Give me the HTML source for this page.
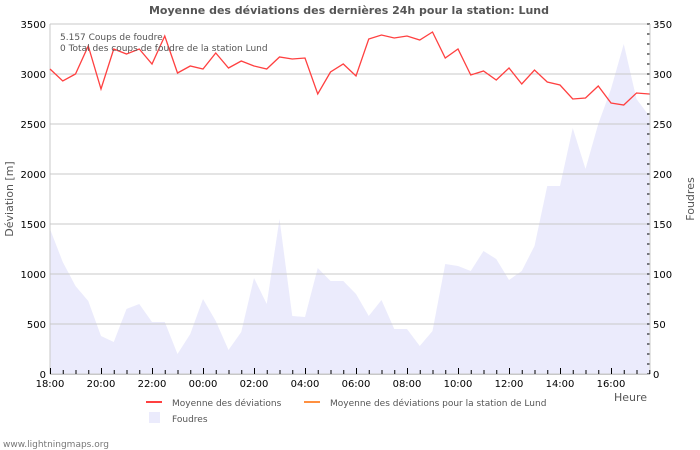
<!DOCTYPE html>
<html><head><meta charset="utf-8"><style>
body{margin:0;background:#fff;}
svg{display:block;font-family:"DejaVu Sans","Liberation Sans",sans-serif;}
</style></head><body>
<svg id="c" width="700" height="450"></svg>
<script>
const deviation=[3050,2930,3000,3280,2850,3250,3200,3250,3100,3380,3010,3080,3050,3210,3060,3130,3080,3050,3170,3150,3160,2800,3020,3100,2980,3350,3390,3360,3380,3340,3420,3160,3250,2990,3030,2940,3060,2900,3040,2920,2890,2750,2760,2880,2710,2690,2810,2800];
const foudres=[145,112,88,73,38,32,65,70,52,52,20,40,75,53,24,42,96,70,155,58,57,106,93,93,80,58,74,45,45,28,43,110,108,103,123,115,94,103,128,188,188,246,205,250,285,330,275,258];
const xLabels=["18:00","20:00","22:00","00:00","02:00","04:00","06:00","08:00","10:00","12:00","14:00","16:00"];
const leftTicks=[0,500,1000,1500,2000,2500,3000,3500];
const rightTicks=[0,50,100,150,200,250,300,350];
const NS="http://www.w3.org/2000/svg";
const svg=document.getElementById('c');
const L=50,R=650,T=24,B=374,step=12.75;
const xs=i=>L+i*step;
const yl=v=>B-(v/3500)*(B-T);
const yr=v=>B-(v/350)*(B-T);
function mk(tag,attrs,parent){const e=document.createElementNS(NS,tag);for(const k in attrs)e.setAttribute(k,attrs[k]);(parent||svg).appendChild(e);return e;}
function txt(s,attrs){const e=mk('text',attrs);e.textContent=s;return e;}
// area
let d=`M${xs(0)},${B}`;foudres.forEach((v,i)=>d+=` L${xs(i)},${yr(v)}`);d+=` L${xs(foudres.length-1)},${B} Z`;
const area=mk('path',{d:d,fill:'#ebebfc'});


// grid
leftTicks.forEach(v=>{
 const g=mk('line',{x1:L,x2:R,y1:yl(v),y2:yl(v),stroke:'#c8c8c8','stroke-width':1});
 
 
 const t=txt(String(v),{x:L-4,y:yl(v)+4,'text-anchor':'end','font-size':10,fill:'#000'});
 
 
});
rightTicks.forEach(v=>{
 const t=txt(String(v),{x:R+3,y:yr(v)+4,'font-size':10,fill:'#000'});
 
 
});
for(let v=0;v<=350;v+=10){mk('line',{x1:R-3,x2:R,y1:yr(v),y2:yr(v),stroke:'#000','stroke-width':1});}
// frame
mk('line',{x1:L,x2:L,y1:T,y2:B,stroke:'#c8c8c8'});
mk('line',{x1:R,x2:R,y1:T,y2:B,stroke:'#c8c8c8'});
mk('line',{x1:L,x2:R,y1:B+0.5,y2:B+0.5,stroke:'#c8c8c8'});
// x ticks
for(let i=0;i<48;i++){const maj=i%4===0;mk('line',{x1:xs(i)+0.5,x2:xs(i)+0.5,y1:B,y2:B-(maj?6:4),stroke:'#000'});}
xLabels.forEach((s,i)=>{
 const t=txt(s,{x:xs(i*4),y:B+13,'text-anchor':'middle','font-size':10,fill:'#000'});
 
 
});
// line
const line=mk('polyline',{points:deviation.map((v,i)=>`${xs(i)},${yl(v)}`).join(' '),fill:'none',stroke:'#ff4040','stroke-width':1.3});


// texts
const ti=txt('Moyenne des déviations des dernières 24h pour la station: Lund',{x:349,y:14,'text-anchor':'middle','font-size':11,'font-weight':'bold',fill:'#555'});


const i1=txt('5.157  Coups de foudre',{x:60,y:40,'font-size':9,fill:'#555'});


const i2=txt('0 Total des coups de foudre de la station Lund',{x:60,y:51,'font-size':9,fill:'#555'});


const yt=txt('Déviation  [m]',{x:0,y:0,'font-size':11,fill:'#555','text-anchor':'middle',transform:'translate(13,199) rotate(-90)'});


const yt2=txt('Foudres',{x:0,y:0,'font-size':11,fill:'#555','text-anchor':'middle',transform:'translate(694,199) rotate(-90)'});


const xt=txt('Heure',{x:647,y:401,'text-anchor':'end','font-size':11,fill:'#555'});


// legend
mk('line',{x1:146,x2:162,y1:402,y2:402,stroke:'#ff4040','stroke-width':2});
const l1=txt('Moyenne des déviations',{x:172,y:406,'font-size':9,fill:'#555'});


mk('line',{x1:304,x2:320,y1:402,y2:402,stroke:'#ff9040','stroke-width':2});
const l2=txt('Moyenne des déviations pour la station de Lund',{x:330,y:406,'font-size':9,fill:'#555'});


mk('rect',{x:149,y:412,width:11,height:11,fill:'#ebebfc'});
const l3=txt('Foudres',{x:172,y:422,'font-size':9,fill:'#555'});


const w=txt('www.lightningmaps.org',{x:3,y:447,'font-size':9,fill:'#777'});


</script>
</body></html>
